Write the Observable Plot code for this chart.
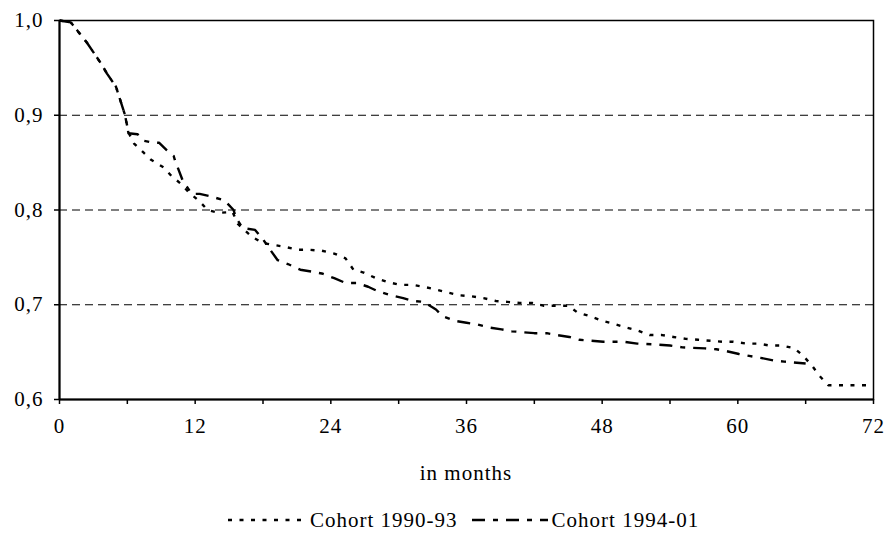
<!DOCTYPE html>
<html>
<head>
<meta charset="utf-8">
<script src="https://cdn.jsdelivr.net/npm/d3@7"></script>
<script src="https://cdn.jsdelivr.net/npm/@observablehq/plot@0.6"></script>
<style>
  html, body { margin: 0; padding: 0; background: #fff; }
  body { width: 890px; height: 535px; position: relative; font-family: "Liberation Serif", "DejaVu Serif", "Times New Roman", serif; color: #000; overflow: hidden; }
  #chart { position: absolute; left: 0; top: 0; }
  #chart svg text { font-family: "Liberation Serif", "DejaVu Serif", "Times New Roman", serif !important; font-size: 21px !important; letter-spacing: 1px; fill: #000; }
  .xlabel { position: absolute; left: 59px; width: 814px; top: 461px; text-align: center; font-size: 21px; line-height: 24px; letter-spacing: 1px; }
  .legend { position: absolute; left: 228px; top: 508px; display: flex; align-items: center; font-size: 21px; line-height: 24px; letter-spacing: 1px; }
  .legend .item { display: flex; align-items: center; }
  .legend svg { display: block; }
</style>
</head>
<body>
<div id="chart"></div>
<div class="xlabel" id="xlabel"></div>
<div class="legend" id="legend"></div>
<script>
// ---- Data ----
const seriesNames = ["Cohort 1990-93", "Cohort 1994-01"];
const xLabel = "in months";

const monthsA = [0, 1, 2.4, 3.2, 3.7, 4.2, 5, 5.8, 6.1, 6.6, 7.4, 8.1, 9.2, 9.9, 10.7, 11.5, 12.4, 13.1, 14.1, 15.3, 15.8, 17.0, 18.0, 19.0, 20.0, 21.1, 22.1, 23.2, 24.3, 25.3, 26.0, 26.9, 28.0, 29.0, 30.1, 31.2, 32.2, 33.3, 34.3, 35.4, 36.4, 37.5, 38.6, 39.6, 40.7, 41.8, 42.8, 43.9, 45.0, 45.8, 46.9, 48.0, 49.0, 50.1, 51.1, 52.2, 53.3, 54.3, 55.4, 56.5, 57.6, 58.6, 59.6, 60.8, 61.8, 62.8, 63.9, 65.0, 65.8, 66.6, 67.3, 68.0, 72];
const valuesA = [1.0, 0.998, 0.977, 0.963, 0.954, 0.944, 0.930, 0.900, 0.882, 0.870, 0.861, 0.853, 0.845, 0.836, 0.828, 0.818, 0.809, 0.800, 0.797, 0.798, 0.785, 0.772, 0.765, 0.763, 0.761, 0.758, 0.758, 0.757, 0.754, 0.749, 0.737, 0.734, 0.728, 0.724, 0.721, 0.721, 0.719, 0.716, 0.713, 0.710, 0.709, 0.707, 0.704, 0.703, 0.702, 0.702, 0.699, 0.699, 0.699, 0.692, 0.688, 0.683, 0.680, 0.676, 0.673, 0.668, 0.668, 0.666, 0.664, 0.663, 0.662, 0.661, 0.661, 0.659, 0.659, 0.657, 0.657, 0.654, 0.646, 0.635, 0.624, 0.615, 0.615];

const monthsB = [0, 1, 2.4, 3.2, 3.7, 4.2, 5, 5.8, 6.1, 6.9, 7.5, 8.3, 8.8, 9.5, 10.1, 10.2, 10.9, 11.7, 12.4, 13.5, 14.6, 15.4, 15.6, 16.2, 17.3, 18.0, 18.7, 19.3, 20.2, 21.3, 22.3, 23.2, 24.3, 25.3, 26.3, 27.3, 28.2, 29.3, 30.4, 31.3, 32.2, 33.3, 33.9, 35.0, 36.0, 37.0, 38.0, 39.1, 40.0, 42.0, 43.1, 44.0, 45.1, 46.0, 48.1, 49.9, 51.1, 52.9, 54.0, 55.1, 57.1, 58.1, 59.0, 60.1, 61.0, 62.0, 63.2, 64.1, 66.0];
const valuesB = [1.0, 0.998, 0.977, 0.963, 0.954, 0.944, 0.930, 0.900, 0.881, 0.880, 0.873, 0.871, 0.871, 0.863, 0.857, 0.853, 0.831, 0.817, 0.817, 0.814, 0.810, 0.800, 0.792, 0.781, 0.779, 0.769, 0.757, 0.747, 0.743, 0.737, 0.735, 0.733, 0.728, 0.723, 0.723, 0.719, 0.714, 0.710, 0.707, 0.704, 0.703, 0.695, 0.688, 0.683, 0.681, 0.679, 0.676, 0.674, 0.672, 0.670, 0.670, 0.668, 0.666, 0.663, 0.661, 0.661, 0.659, 0.658, 0.657, 0.655, 0.654, 0.653, 0.651, 0.648, 0.646, 0.644, 0.641, 0.640, 0.638];

const xTicks = [0, 6, 12, 18, 24, 30, 36, 42, 48, 54, 60, 66, 72];
const xTickLabels = ["0", "", "12", "", "24", "", "36", "", "48", "", "60", "", "72"];
const yTicks = [0.6, 0.7, 0.8, 0.9, 1.0];
const yTickLabels = ["0,6", "0,7", "0,8", "0,9", "1,0"];
const gridValues = [0.7, 0.8, 0.9];

// ---- Styles ----
const dashA = "4,7.5";
const dashB = "13,8,5,8";
const lineWidth = 2.4;

const dataA = monthsA.map((m, i) => ({month: m, value: valuesA[i]}));
const dataB = monthsB.map((m, i) => ({month: m, value: valuesB[i]}));

const chart = Plot.plot({
  width: 890,
  height: 445,
  marginLeft: 59,
  marginRight: 17,
  marginTop: 20,
  marginBottom: 46,
  style: {fontFamily: "'Liberation Serif', 'DejaVu Serif', serif", fontSize: "21px", color: "#000", background: "#fff", overflow: "visible"},
  x: {domain: [0, 72]},
  y: {domain: [0.6, 1.0]},
  marks: [
    Plot.ruleY(gridValues, {stroke: "#000", strokeWidth: 1, strokeDasharray: "8,5"}),
    Plot.frame({stroke: "#000", strokeWidth: 1.5}),
    Plot.axisX({ticks: xTicks, tickFormat: (d) => xTickLabels[xTicks.indexOf(d)], tickSize: 5, tickPadding: 14, label: null, fontSize: 21, strokeWidth: 1.5}),
    Plot.axisY({ticks: yTicks, tickFormat: (d) => yTickLabels[yTicks.findIndex(t => Math.abs(t - d) < 1e-9)], tickSize: 5, tickPadding: 11, label: null, fontSize: 21, strokeWidth: 1.5}),
    Plot.ruleX([0], {stroke: "#000", strokeWidth: 2}),
    Plot.ruleY([0.6], {stroke: "#000", strokeWidth: 2}),
    Plot.line(dataA, {x: "month", y: "value", stroke: "#000", strokeWidth: lineWidth, strokeDasharray: dashA, strokeLinecap: "butt"}),
    Plot.line(dataB, {x: "month", y: "value", stroke: "#000", strokeWidth: lineWidth, strokeDasharray: dashB, strokeLinecap: "butt"})
  ]
});
document.getElementById("chart").appendChild(chart);

document.getElementById("xlabel").textContent = xLabel;

// Legend
const legend = document.getElementById("legend");
const dashes = [dashA, dashB];
const swatchW = [77, 76];
const gaps = [5, 4];
seriesNames.forEach((name, i) => {
  const item = document.createElement("div");
  item.className = "item";
  item.style.marginRight = i === 0 ? "14px" : "0";
  const ns = "http://www.w3.org/2000/svg";
  const svg = document.createElementNS(ns, "svg");
  svg.setAttribute("width", swatchW[i]);
  svg.setAttribute("height", 10);
  svg.style.marginRight = gaps[i] + "px";
  const ln = document.createElementNS(ns, "line");
  ln.setAttribute("x1", 0); ln.setAttribute("x2", swatchW[i]);
  ln.setAttribute("y1", 5); ln.setAttribute("y2", 5);
  ln.setAttribute("stroke", "#000");
  ln.setAttribute("stroke-width", 2.4);
  ln.setAttribute("stroke-dasharray", dashes[i]);
  svg.appendChild(ln);
  const span = document.createElement("span");
  span.textContent = name;
  item.appendChild(svg);
  item.appendChild(span);
  legend.appendChild(item);
});
</script>
</body>
</html>
